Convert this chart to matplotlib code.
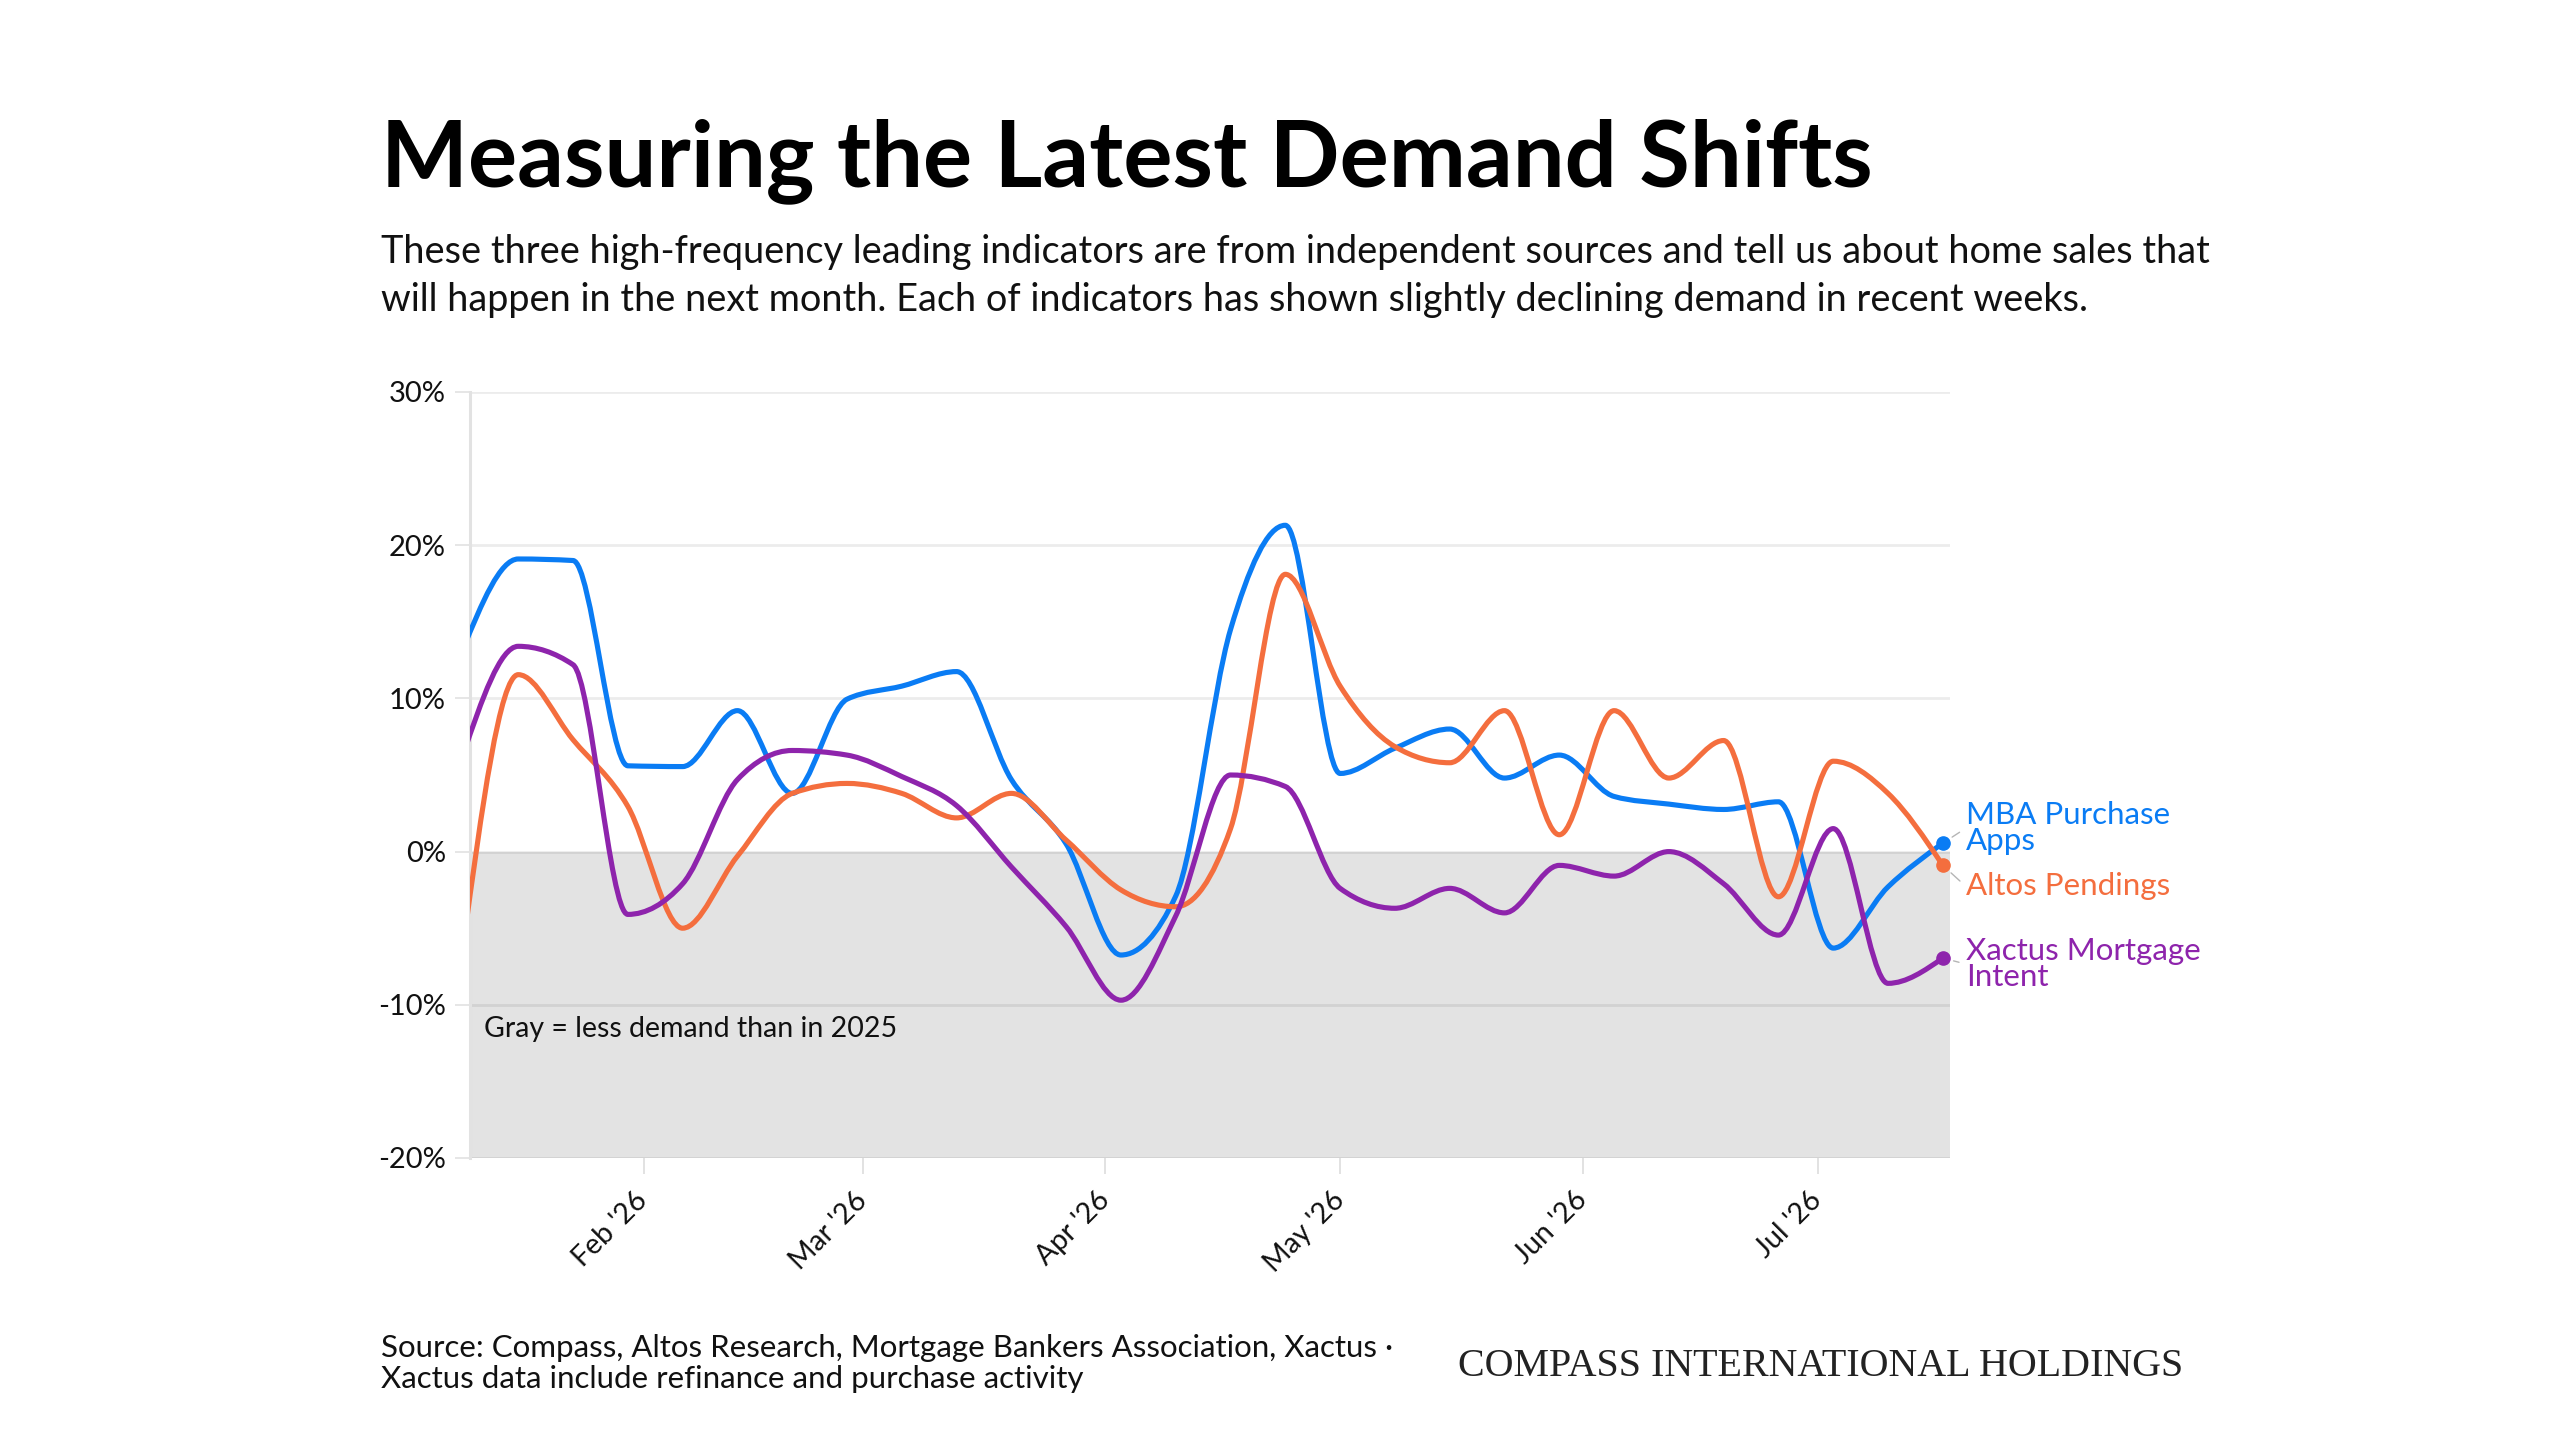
import numpy as np
import matplotlib
matplotlib.use("Agg")
import matplotlib.pyplot as plt
import matplotlib.dates as mdates
from matplotlib.path import Path
from matplotlib.patches import PathPatch
from matplotlib.ticker import FixedLocator, FuncFormatter
import datetime as dt

# ---------------- data ----------------
week_dates = ["2026-01-09", "2026-01-16", "2026-01-23", "2026-01-30",
              "2026-02-06", "2026-02-13", "2026-02-20", "2026-02-27",
              "2026-03-06", "2026-03-13", "2026-03-20", "2026-03-27",
              "2026-04-03", "2026-04-10", "2026-04-17", "2026-04-24",
              "2026-05-01", "2026-05-08", "2026-05-15", "2026-05-22",
              "2026-05-29", "2026-06-05", "2026-06-12", "2026-06-19",
              "2026-06-26", "2026-07-03", "2026-07-10", "2026-07-17"]

mba_purchase = [13.3, 19.1, 19.0, 5.6, 5.55, 9.2, 3.8, 9.95, 10.8, 11.75,
                4.7, 0.5, -6.75, -2.9, 14.5, 21.3, 5.1, 6.75, 8.0, 4.8,
                6.3, 3.6, 3.1, 2.75, 3.25, -6.3, -2.3, 0.55]
altos_pendings = [-6.0, 11.55, 7.3, 2.95, -5.0, -0.3, 3.8, 4.45, 3.8, 2.2,
                  3.8, 0.75, -2.5, -3.6, 1.5, 18.1, 10.8, 6.85, 5.8, 9.2,
                  1.1, 9.2, 4.8, 7.25, -2.95, 5.9, 3.8, -0.9]
xactus_intent = [6.4, 13.4, 12.2, -4.1, -2.1, 4.7, 6.6, 6.3, 4.9, 3.0,
                 -1.0, -4.9, -9.7, -4.2, 5.0, 4.25, -2.4, -3.7, -2.4, -4.0,
                 -0.9, -1.6, 0.0, -2.1, -5.45, 1.5, -8.6, -6.95]

series_names = ["MBA Purchase\nApps", "Altos Pendings", "Xactus Mortgage\nIntent"]
series_colors = ["#0A7CF4", "#F46E3E", "#8E24AC"]

month_ticks = ["2026-02-01", "2026-03-01", "2026-04-01", "2026-05-01", "2026-06-01", "2026-07-01"]
month_labels = ["Feb '26", "Mar '26", "Apr '26", "May '26", "Jun '26", "Jul '26"]
y_ticks = [-20, -10, 0, 10, 20, 30]

title = "Measuring the Latest Demand Shifts"
subtitle_lines = ["These three high-frequency leading indicators are from independent sources and tell us about home sales that",
                  "will happen in the next month. Each of indicators has shown slightly declining demand in recent weeks."]
footer_lines = ["Source: Compass, Altos Research, Mortgage Bankers Association, Xactus \u00b7",
                "Xactus data include refinance and purchase activity"]
brand = "COMPASS INTERNATIONAL HOLDINGS"
gray_note = "Gray = less demand than in 2025"

# ---------------- helpers ----------------
W, H = 2560, 1440
FONT = "Lato"


def monotone_path(xs, ys):
    xs = np.asarray(xs, float)
    ys = np.asarray(ys, float)
    n = len(xs)
    h = np.diff(xs)
    s = np.diff(ys) / h
    t = np.zeros(n)
    for i in range(1, n - 1):
        h0, h1, s0, s1 = h[i - 1], h[i], s[i - 1], s[i]
        p = (s0 * h1 + s1 * h0) / (h0 + h1)
        t[i] = (np.sign(s0) + np.sign(s1)) * min(abs(s0), abs(s1), 0.5 * abs(p))
    t[0] = (3 * s[0] - t[1]) / 2
    t[-1] = (3 * s[-1] - t[-2]) / 2
    verts = [(xs[0], ys[0])]
    codes = [Path.MOVETO]
    for i in range(n - 1):
        d = h[i] / 3
        verts += [(xs[i] + d, ys[i] + d * t[i]),
                  (xs[i + 1] - d, ys[i + 1] - d * t[i + 1]),
                  (xs[i + 1], ys[i + 1])]
        codes += [Path.CURVE4] * 3
    return Path(verts, codes)


def fx(px):
    return px / W


def fy(py):
    return 1 - py / H


# ---------------- figure ----------------
plt.rcParams["font.family"] = [FONT, "DejaVu Sans"]
fig = plt.figure(figsize=(W / 100, H / 100), dpi=100, facecolor="white")
ax = fig.add_axes([fx(470), fy(1158), 1480 / W, 766 / H])

xnum = mdates.date2num([dt.date.fromisoformat(d) for d in week_dates])
x_left = mdates.date2num(dt.datetime(2026, 1, 9, 20))
x_right = mdates.date2num(dt.datetime(2026, 7, 17, 22))
ax.set_xlim(x_left, x_right)
ax.set_ylim(-20, 30)

# gray "less demand" zone
ax.axhspan(-20, 0, color="#E3E3E3", zorder=0.5, lw=0)

# grid lines
for yv in y_ticks:
    ax.axhline(yv, color=(0, 0, 0, 0.075), lw=2.0, zorder=0.8)

for spine in ["top", "right", "bottom"]:
    ax.spines[spine].set_visible(False)
ax.spines["left"].set_color("#E2E2E2")
ax.spines["left"].set_linewidth(2.2)

ax.yaxis.set_major_locator(FixedLocator(y_ticks))
ax.yaxis.set_major_formatter(FuncFormatter(lambda v, p: f"{int(v)}%"))
ax.tick_params(axis="y", length=10.8, width=1.44, color="#E6E6E6", pad=6.5,
               labelsize=21, labelcolor="#111111")

xt = mdates.date2num([dt.date.fromisoformat(d) for d in month_ticks])
ax.set_xticks(xt)
ax.set_xticklabels(month_labels, rotation=45, ha="right", va="center",
                   rotation_mode="anchor")
ax.tick_params(axis="x", length=11.5, width=1.44, color="#E2E2E2", pad=16,
               labelsize=20.5, labelcolor="#111111")

ax.text(0.0095, -11.6, gray_note, transform=ax.get_yaxis_transform(),
        ha="left", va="center", fontsize=20.5, color="#111111", zorder=3)

all_series = [mba_purchase, altos_pendings, xactus_intent]
label_offsets = [(23, 15), (23, -21), (23, -6)]
for vals, name, col, off in zip(all_series, series_names, series_colors, label_offsets):
    patch = PathPatch(monotone_path(xnum, vals), facecolor="none", edgecolor=col,
                      lw=3.7, capstyle="round", joinstyle="round", zorder=3)
    ax.add_patch(patch)
    ax.plot([xnum[-1]], [vals[-1]], "o", color=col, ms=9.5, clip_on=False, zorder=4)
    ax.annotate(name, xy=(xnum[-1], vals[-1]), xycoords="data",
                xytext=off, textcoords="offset pixels",
                ha="left", va="center", fontsize=22.5, color=col,
                linespacing=0.92, annotation_clip=False,
                arrowprops=dict(arrowstyle="-", color="#B5B5B5", lw=1.0,
                                shrinkA=3, shrinkB=8, relpos=(0, 0.5)))

# ---------------- header / footer ----------------
t_title = fig.text(fx(381), fy(186.7), title, ha="left", va="baseline",
                   fontsize=60, fontweight="bold", color="#000000")
t_sub1 = fig.text(fx(381), fy(263.3), subtitle_lines[0], ha="left", va="baseline",
                  fontsize=26, color="#111111")
t_sub2 = fig.text(fx(381), fy(310.7), subtitle_lines[1], ha="left", va="baseline",
                  fontsize=26, color="#111111")
t_f1 = fig.text(fx(381), fy(1356.5), footer_lines[0], ha="left", va="baseline",
                fontsize=19, color="#111111")
t_f2 = fig.text(fx(381), fy(1388), footer_lines[1], ha="left", va="baseline",
                fontsize=19, color="#111111")
t_brand = fig.text(fx(1458), fy(1376), brand, ha="left", va="baseline",
                   fontsize=26, color="#222222",
                   family=["Liberation Serif", "DejaVu Serif"])

fig.canvas.draw()
renderer = fig.canvas.get_renderer()


def fit(texts, ref, target):
    w = ref.get_window_extent(renderer).width
    k = target / w
    for t in texts:
        t.set_fontsize(t.get_fontsize() * k)


fit([t_title], t_title, 1493)
fit([t_sub1, t_sub2], t_sub1, 1823)
fit([t_f1, t_f2], t_f1, 1015)
fit([t_brand], t_brand, 726)

fig.savefig("out.png", dpi=100, facecolor="white")
